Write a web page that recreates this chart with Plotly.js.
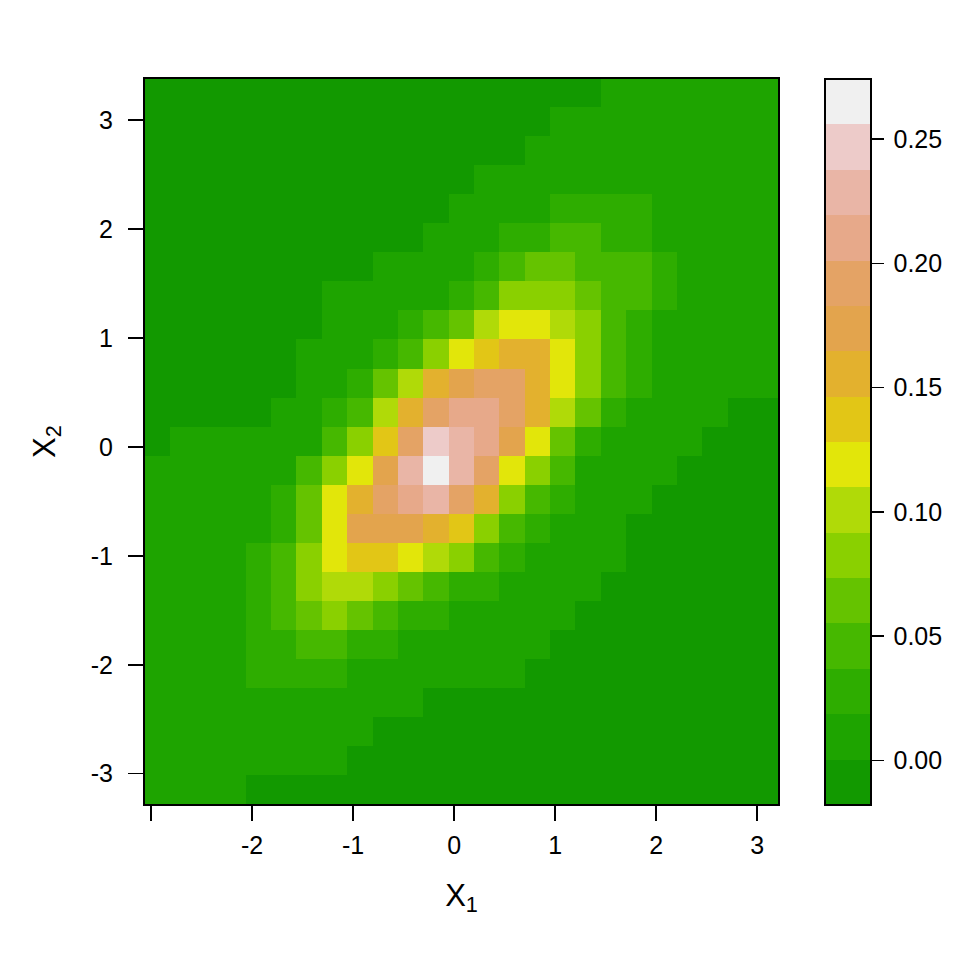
<!DOCTYPE html>
<html>
<head>
<meta charset="utf-8">
<script src="https://cdn.plot.ly/plotly-3.0.1.min.js"></script>
<style>html,body{margin:0;padding:0;background:#fff}#p{width:960px;height:960px}</style>
</head>
<body>
<div id="p"></div>
<script>
// Density values (top row first, each cell = middle of its colour band)
const a=-0.008,b=0.010,c=0.028,d=0.047,e=0.065,f=0.083,g=0.101,h=0.120,i=0.138,j=0.156,k=0.175,l=0.193,m=0.211,n=0.229,o=0.248,p=0.266;
const rowsTopDown = [
 [a,a,a,a,a,a,a,a,a,a,a,a,a,a,a,a,a,a,b,b,b,b,b,b,b],
 [a,a,a,a,a,a,a,a,a,a,a,a,a,a,a,a,b,b,b,b,b,b,b,b,b],
 [a,a,a,a,a,a,a,a,a,a,a,a,a,a,a,b,b,b,b,b,b,b,b,b,b],
 [a,a,a,a,a,a,a,a,a,a,a,a,a,b,b,b,b,b,b,b,b,b,b,b,b],
 [a,a,a,a,a,a,a,a,a,a,a,a,b,b,b,b,c,c,c,c,b,b,b,b,b],
 [a,a,a,a,a,a,a,a,a,a,a,b,b,b,c,c,d,d,c,c,b,b,b,b,b],
 [a,a,a,a,a,a,a,a,a,b,b,b,b,c,d,e,e,d,d,d,c,b,b,b,b],
 [a,a,a,a,a,a,a,b,b,b,b,b,c,d,f,f,f,e,d,d,c,b,b,b,b],
 [a,a,a,a,a,a,a,b,b,b,c,d,e,g,h,h,g,f,d,c,b,b,b,b,b],
 [a,a,a,a,a,a,b,b,b,c,d,f,h,i,j,j,h,f,d,c,b,b,b,b,b],
 [a,a,a,a,a,a,b,b,c,e,g,j,k,l,l,j,h,f,d,c,b,b,b,b,b],
 [a,a,a,a,a,b,b,c,d,g,j,l,m,m,l,j,g,e,c,b,b,b,b,a,a],
 [a,b,b,b,b,b,b,d,f,i,l,o,n,m,k,h,e,c,b,b,b,b,a,a,a],
 [b,b,b,b,b,b,d,f,h,k,n,p,n,l,h,f,d,b,b,b,b,a,a,a,a],
 [b,b,b,b,b,c,e,h,j,l,m,n,l,j,f,d,c,b,b,b,a,a,a,a,a],
 [b,b,b,b,b,c,e,h,k,k,k,j,i,f,d,c,b,b,b,a,a,a,a,a,a],
 [b,b,b,b,c,d,f,h,i,i,h,g,f,d,c,b,b,b,b,a,a,a,a,a,a],
 [b,b,b,b,c,d,f,g,g,f,e,d,c,c,b,b,b,b,a,a,a,a,a,a,a],
 [b,b,b,b,c,d,e,f,e,d,c,c,b,b,b,b,b,a,a,a,a,a,a,a,a],
 [b,b,b,b,c,c,d,d,c,c,b,b,b,b,b,b,a,a,a,a,a,a,a,a,a],
 [b,b,b,b,c,c,c,c,b,b,b,b,b,b,b,a,a,a,a,a,a,a,a,a,a],
 [b,b,b,b,b,b,b,b,b,b,b,a,a,a,a,a,a,a,a,a,a,a,a,a,a],
 [b,b,b,b,b,b,b,b,b,a,a,a,a,a,a,a,a,a,a,a,a,a,a,a,a],
 [b,b,b,b,b,b,b,b,a,a,a,a,a,a,a,a,a,a,a,a,a,a,a,a,a],
 [b,b,b,b,a,a,a,a,a,a,a,a,a,a,a,a,a,a,a,a,a,a,a,a,a]
];
const bandColors = ['#129900','#1EA400','#2EAD00','#46B800','#65C300','#8AD000','#B0DA08','#E2E60A',
                    '#E2C616','#E3B12E','#E3A44D','#E4A365','#E7A98A','#E9B5A6','#EDCBC9','#F0F0F0'];
const axisTicks = [-3,-2,-1,0,1,2,3];
const xTickText = ['','-2','-1','0','1','2','3'];
const yTickText = ['-3','-2','-1','0','1','2','3'];
const barTicks = [0,0.05,0.10,0.15,0.20,0.25];
const barTickText = ['\u20090.00','\u20090.05','\u20090.10','\u20090.15','\u20090.20','\u20090.25'];

const scale = [];
bandColors.forEach((col,t)=>{scale.push([t/16,col]);scale.push([(t+1)/16,col]);});
const font = {family:'"Liberation Sans",Arial,sans-serif',size:25,color:'#000'};
const titleFont = {family:font.family,size:31,color:'#000'};
const axis = {showline:true,mirror:true,linecolor:'#000',linewidth:2,ticks:'outside',ticklen:15,tickwidth:1.5,
  tickcolor:'#000',tickmode:'array',tickvals:axisTicks,showgrid:false,zeroline:false,tickfont:font};
const trace = {type:'heatmap',z:rowsTopDown.slice().reverse(),
  x0:-2.941,dx:0.2512,y0:-3.145,dy:0.2665,
  zmin:-0.0180,zmax:0.2742,colorscale:scale,zsmooth:false,hoverinfo:'skip',
  colorbar:{xref:'paper',x:1.075,xanchor:'left',y:0.4993,yanchor:'middle',lenmode:'pixels',len:726,
    thicknessmode:'pixels',thickness:46,xpad:0,ypad:0,outlinewidth:2,outlinecolor:'#000',borderwidth:0,
    ticks:'outside',ticklen:12,tickwidth:1.5,tickcolor:'#000',tickmode:'array',tickvals:barTicks,ticktext:barTickText,tickfont:font}};
const layout = {width:960,height:960,paper_bgcolor:'#fff',plot_bgcolor:'#fff',showlegend:false,font:font,
  margin:{l:145,r:181.5,t:79,b:156,pad:0},
  xaxis:Object.assign({},axis,{range:[-3.060,3.206],ticktext:xTickText,ticklabelstandoff:3,
    title:{text:'X<sub>1</sub>',font:titleFont,standoff:26}}),
  yaxis:Object.assign({},axis,{range:[-3.278,3.376],ticktext:yTickText,ticklabelstandoff:10,
    title:{text:'X<sub>2</sub>',font:titleFont,standoff:26}})};
Plotly.newPlot('p',[trace],layout,{displayModeBar:false,staticPlot:true});
</script>
</body>
</html>
